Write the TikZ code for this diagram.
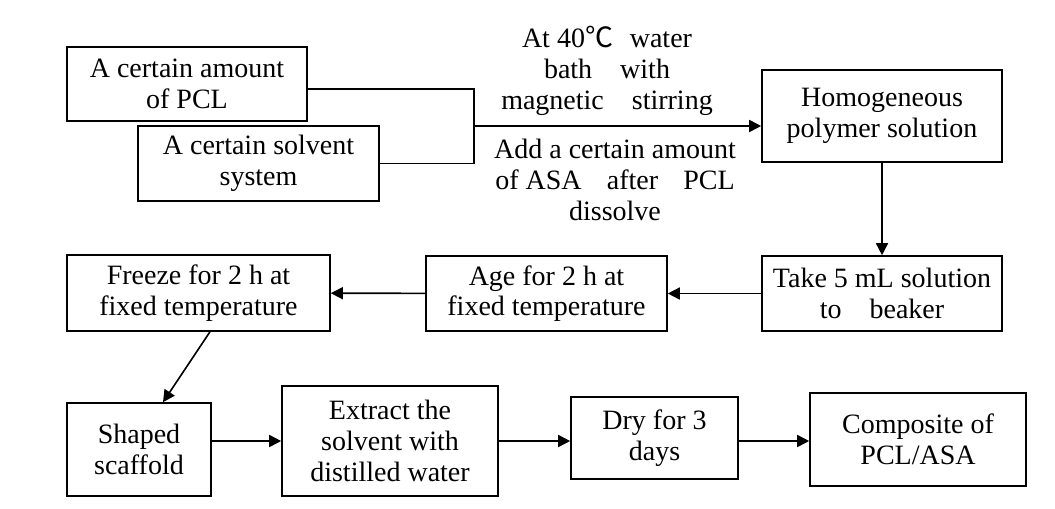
\documentclass[tikz,border=0pt]{standalone}
\usepackage{fontspec}
\setmainfont{Liberation Serif}
\newfontfamily\cjksym{Noto Sans CJK SC}
\usetikzlibrary{arrows.meta}
\begin{document}
\begin{tikzpicture}[x=0.75pt, y=-0.75pt, >={Triangle[length=9pt, width=9pt]},
  every node/.style={font=\fontsize{21}{23}\selectfont},
  stepbox/.style={draw, line width=1.2pt, align=center, inner sep=0pt},
  link/.style={line width=1.2pt}]
\useasboundingbox (0,0) rectangle (1055,508);
\node[stepbox, minimum width=180pt, minimum height=55.5pt] (pcl) at (187,84) {A certain amount\\ of PCL};
\node[stepbox, minimum width=180.75pt, minimum height=56.25pt] (solvent) at (258.5,163.5) {A certain solvent\\ system};
\node[stepbox, minimum width=180pt, minimum height=69pt] (homo) at (882,116) {Homogeneous\\ polymer solution};
\node[stepbox, minimum width=180pt, minimum height=56.25pt] (take) at (882,293.5) {Take 5 mL solution\\ to\hspace{1em}beaker};
\node[stepbox, minimum width=180.75pt, minimum height=56.25pt] (age) at (546.5,293.5) {Age for 2 h at\\ fixed temperature};
\node[stepbox, minimum width=197.25pt, minimum height=57pt] (freeze) at (198.5,293) {Freeze for 2 h at\\ fixed temperature};
\node[stepbox, minimum width=108pt, minimum height=69.75pt] (shaped) at (139,449.5) {Shaped\\ scaffold};
\node[stepbox, minimum width=162pt, minimum height=82.5pt] (extract) at (390,441) {Extract the\\ solvent with\\ distilled water};
\node[stepbox, minimum width=125.25pt, minimum height=61.5pt] (dry) at (654.5,438) {Dry for 3\\ days};
\node[stepbox, minimum width=162pt, minimum height=69.75pt] (comp) at (918,439.5) {Composite of\\ PCL/ASA};
\coordinate (join) at (474,126);
\node[align=center] (heat) at (607,71) {At 40{\cjksym ℃}\hspace{0.6em}water\\ bath\hspace{1em}with\\ magnetic\hspace{1em}stirring};
\node[align=center] (asa) at (615,180) {Add a certain amount\\ of ASA\hspace{0.9em}after\hspace{0.9em}PCL\\ dissolve};
\draw[link] ([yshift=-3.75pt]pcl.east) -| (join);
\draw[link] (solvent.east) -| (join);
\draw[link, ->] (join) -- (homo.west |- join);
\draw[link, ->] (homo) -- (take);
\draw[link, ->] (take) -- (age);
\draw[link, ->] (age) -- (freeze);
\draw[link, ->] ([xshift=8.6pt]freeze.south) -- ([xshift=18pt]shaped.north);
\draw[link, ->] (shaped.east |- extract) -- (extract.west);
\draw[link, ->] (extract) -- (extract -| dry.west);
\draw[link, ->] (extract -| dry.east) -- (extract -| comp.west);
\end{tikzpicture}
\end{document}
